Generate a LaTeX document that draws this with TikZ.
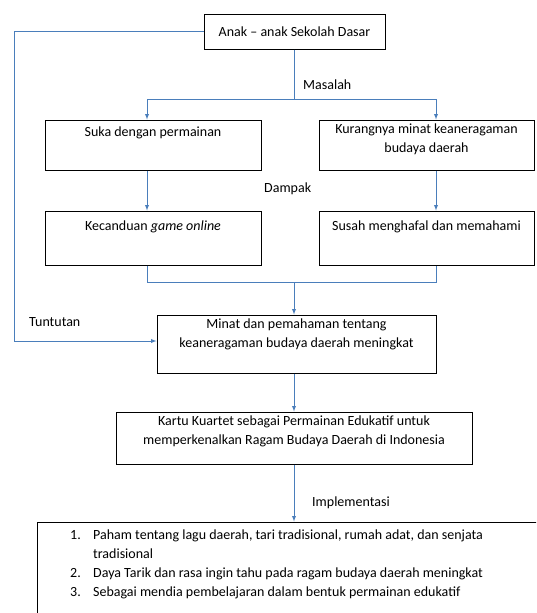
\documentclass[tikz,border=0pt]{standalone}
\usepackage{fontspec}
\setmainfont{Carlito}
\usepackage{tikz}
\usetikzlibrary{calc}
\usetikzlibrary{arrows}
\usepackage{xcolor}
\definecolor{biru}{RGB}{74,126,187}

\begin{document}
\begin{tikzpicture}[x=1pt,y=-1pt,
kotak/.style={draw=black,line width=1pt,inner sep=0pt},
teks/.style={inner sep=0pt,align=center,font=\fontsize{14}{19}\selectfont,execute at begin node=\strut},
label/.style={inner sep=0pt,anchor=base west,font=\fontsize{14}{19}\selectfont},
panah/.style={draw=biru,line width=0.9pt,-latex}]

\useasboundingbox (0,0) rectangle (536,613);
\fill[white] (0,0) rectangle (536,613);
\clip (0,0) rectangle (536,613);

\node[kotak,minimum width=181pt,minimum height=35pt,font=\fontsize{14}{19}\selectfont] (anak) at (294.5,31.5) {Anak -- anak Sekolah Dasar};

\node[kotak,minimum width=216pt,minimum height=50pt] (suka) at (153,145) {};
\node[kotak,minimum width=215pt,minimum height=50pt] (kurang) at (426.5,145) {};
\node[kotak,minimum width=216pt,minimum height=54pt] (candu) at (153,238) {};
\node[kotak,minimum width=215pt,minimum height=54pt] (susah) at (426.5,238) {};
\node[kotak,minimum width=279pt,minimum height=58pt] (minat) at (296.5,344) {};
\node[kotak,minimum width=356pt,minimum height=52pt] (kartu) at (294,438) {};
\node[kotak,minimum width=523pt,minimum height=118pt] (hasil) at (298.5,581) {};

\node[teks,anchor=north] (tsuka) at ($(suka.north)+(0,3.7)$) {Suka dengan permainan};
\node[teks,anchor=north] (tkurang) at ($(kurang.north)+(0,3.7)$) {Kurangnya minat keaneragaman\\budaya daerah};
\node[teks,anchor=north] (tcandu) at ($(candu.north)+(0,6)$) {Kecanduan \textit{game online}};
\node[teks,anchor=north] (tsusah) at ($(susah.north)+(0,6)$) {Susah menghafal dan memahami};
\node[teks,anchor=north] (tminat) at ($(minat.north)+(0,4)$) {Minat dan pemahaman tentang\\keaneragaman budaya daerah meningkat};
\node[teks,anchor=north] (tkartu) at ($(kartu.north)+(0,4)$) {Kartu Kuartet sebagai Permainan Edukatif untuk\\memperkenalkan Ragam Budaya Daerah di Indonesia};
\node[teks,anchor=north west,align=left] (thasil) at (70,525.7) {\begin{tabular}{@{}p{23pt}@{}l@{}}
1. & Paham tentang lagu daerah, tari tradisional, rumah adat, dan senjata\\
 & tradisional\\
2. & Daya Tarik dan rasa ingin tahu pada ragam budaya daerah meningkat\\
3. & Sebagai mendia pembelajaran dalam bentuk permainan edukatif
\end{tabular}};

\node[label] (masalah) at (303,89) {Masalah};
\node[label] (dampak) at (264,192) {Dampak};
\node[label] (tuntutan) at (29,326) {Tuntutan};
\node[label] (implementasi) at (312,506) {Implementasi};

\coordinate (kiri) at (147,99);
\coordinate (kanan) at (436,99);
\coordinate (gabung) at (294,282);
\coordinate (tepi) at (14,341);

\draw[biru,line width=0.9pt] (anak.south) -- (anak.south |- kiri) (kiri) -- (kanan);
\draw[panah] (kiri) -- (kiri |- suka.north);
\draw[panah] (kanan) -- (kanan |- kurang.north);
\draw[panah] (kiri |- suka.south) -- (kiri |- candu.north);
\draw[panah] (kanan |- kurang.south) -- (kanan |- susah.north);
\draw[biru,line width=0.9pt] (kiri |- candu.south) -- (kiri |- gabung) -- (kanan |- gabung) -- (kanan |- susah.south);
\draw[panah] (gabung) -- (gabung |- minat.north);
\draw[panah] (kartu.north |- minat.south) -- (kartu.north);
\draw[panah] (kartu.south) -- (kartu.south |- hasil.north);
\draw[panah] (anak.west) -| (tepi) -- (tepi -| minat.west);

\end{tikzpicture}
\end{document}
